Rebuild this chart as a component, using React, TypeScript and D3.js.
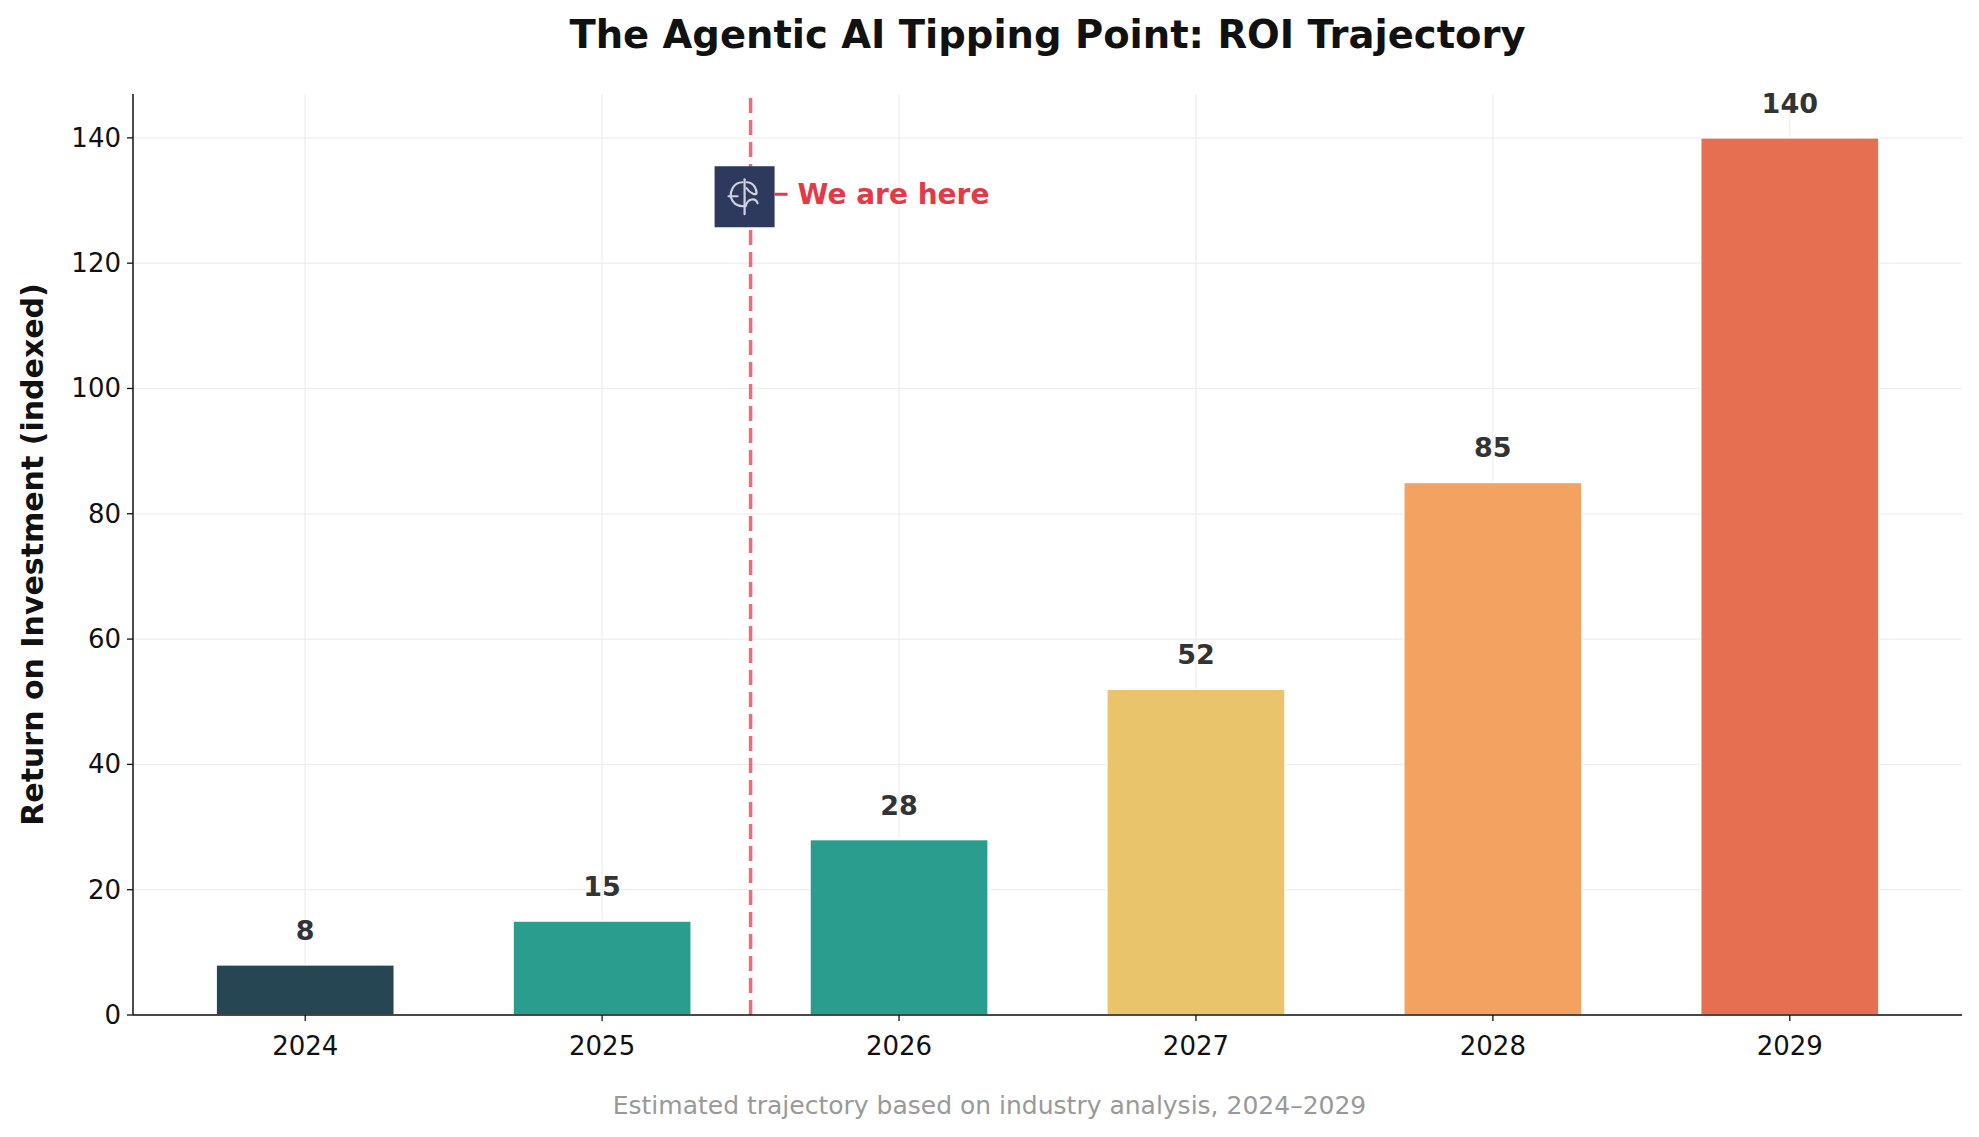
import React from 'react';
import * as d3 from 'd3';

const years = ['2024', '2025', '2026', '2027', '2028', '2029'];
const roi = [8, 15, 28, 52, 85, 140];
const colors = ['#264653', '#2a9d8f', '#2a9d8f', '#e9c46a', '#f4a261', '#e76f51'];
const yTicks = [0, 20, 40, 60, 80, 100, 120, 140];

const W = 1979;
const H = 1137;
const margin = { left: 133, right: 17, top: 94, bottom: 122 };
const font = 'DejaVu Sans, sans-serif';

const App: React.FC = () => {
  const x = d3.scaleLinear().domain([-0.58, 5.58]).range([margin.left, W - margin.right]);
  const y = d3.scaleLinear().domain([0, 147]).range([H - margin.bottom, margin.top]);
  const bw = x(0.6) - x(0);
  const nowX = x(1.5);
  const iconY = y(131);

  return (
    <svg width={W} height={H} style={{ display: 'block', margin: '-8px' }} fontFamily={font}>
      <rect width={W} height={H} fill="#fff" />
      <text x={(margin.left + W - margin.right) / 2} y={48} textAnchor="middle" fontSize={38.5} fontWeight="bold" fill="#111">
        The Agentic AI Tipping Point: ROI Trajectory
      </text>
      {/* grid */}
      {yTicks.map(t => (
        <line key={'gy' + t} x1={x.range()[0]} x2={x.range()[1]} y1={y(t)} y2={y(t)} stroke="#eee" strokeWidth={1.3} />
      ))}
      {years.map((_, i) => (
        <line key={'gx' + i} x1={x(i)} x2={x(i)} y1={y(0)} y2={margin.top} stroke="#eee" strokeWidth={1.3} />
      ))}
      {/* bars */}
      {roi.map((v, i) => (
        <g key={years[i]}>
          <rect x={x(i) - bw / 2} y={y(v)} width={bw} height={y(0) - y(v)} fill={colors[i]} stroke="#fff" strokeWidth={1.5} />
          <text x={x(i)} y={y(v) - 25} textAnchor="middle" fontSize={27} fontWeight="bold" fill="#333">{v}</text>
        </g>
      ))}
      {/* now marker */}
      <line x1={nowX} x2={nowX} y1={y(0)} y2={margin.top} stroke="#f06b78" strokeWidth={3.5} strokeDasharray="15,7" />
      <rect x={nowX - 36} y={iconY - 28} width={60} height={61} fill="#2d3a5e" />
      <g transform={`translate(${nowX - 6},${iconY + 2})`} fill="none" stroke="#cfd3dc" strokeWidth={2.2} strokeLinecap="round">
        <path d="M0,-17 V18" />
        <path d="M-2,-14 C-12,-14 -14,-4 -14,0" />
        <path d="M2,-14 C10,-14 12,-6 12,-3 C12,-1 6,-2 2,-8" />
        <path d="M-14,0 C-12,8 -6,10 -1,10" />
        <path d="M1,10 C3,2 11,1 13,7" />
        <path d="M-16,0 H-7" />
      </g>
      <line x1={nowX + 24} x2={nowX + 37} y1={iconY} y2={iconY} stroke="#e63946" strokeWidth={3} />
      <text x={nowX + 47} y={iconY + 10} fontSize={28} fontWeight="bold" fill="#e63946">We are here</text>
      {/* axes */}
      <line x1={x.range()[0]} x2={x.range()[1]} y1={y(0)} y2={y(0)} stroke="#111" strokeWidth={1.5} />
      <line x1={margin.left} x2={margin.left} y1={y(0)} y2={margin.top} stroke="#111" strokeWidth={1.5} />
      {yTicks.map(t => (
        <g key={'ty' + t}>
          <line x1={margin.left - 6} x2={margin.left} y1={y(t)} y2={y(t)} stroke="#111" strokeWidth={1.3} />
          <text x={margin.left - 12} y={y(t) + 9} textAnchor="end" fontSize={26} fill="#111">{t}</text>
        </g>
      ))}
      {years.map((yr, i) => (
        <g key={'tx' + yr}>
          <line x1={x(i)} x2={x(i)} y1={y(0)} y2={y(0) + 6} stroke="#111" strokeWidth={1.3} />
          <text x={x(i)} y={y(0) + 40} textAnchor="middle" fontSize={26} fill="#111">{yr}</text>
        </g>
      ))}
      <text transform={`translate(43,${(y(0) + margin.top) / 2}) rotate(-90)`} textAnchor="middle" fontSize={30} fontWeight="bold" fill="#111">
        Return on Investment (indexed)
      </text>
      <text x={W / 2} y={1114} textAnchor="middle" fontSize={25} fill="#999">
        Estimated trajectory based on industry analysis, 2024–2029
      </text>
    </svg>
  );
};

export default App;
